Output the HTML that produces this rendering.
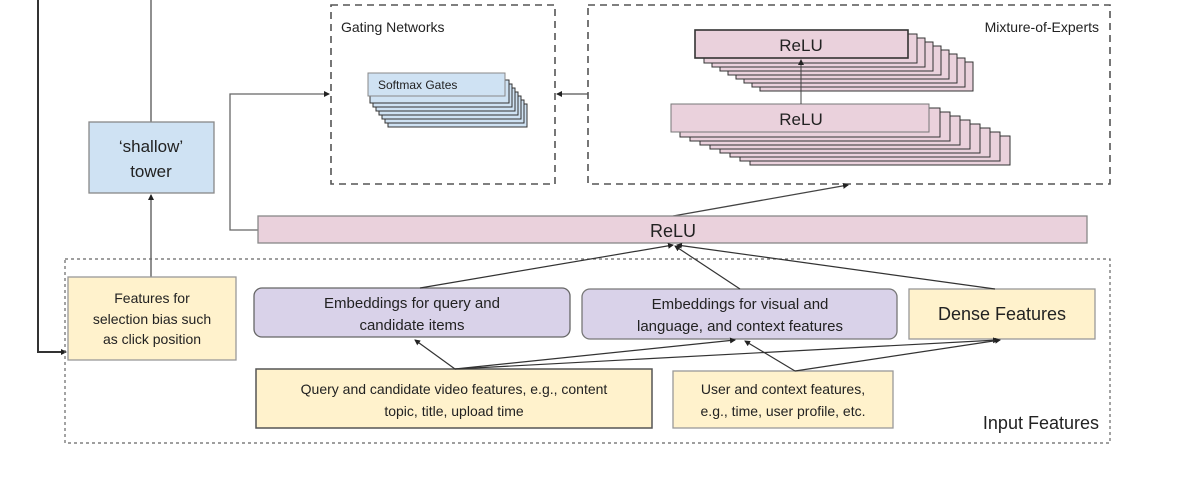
<!DOCTYPE html>
<html><head><meta charset="utf-8"><style>
html,body{margin:0;padding:0;background:#fff;}
svg{display:block;}
text{font-family:"Liberation Sans",sans-serif;fill:#222;}
</style></head><body>
<svg width="1181" height="490" viewBox="0 0 1181 490" xmlns="http://www.w3.org/2000/svg">
<defs>
<marker id="a" markerWidth="6" markerHeight="6" refX="5" refY="3" orient="auto" markerUnits="userSpaceOnUse"><path d="M0,0 L6,3 L0,6 z" fill="#222"/></marker>
</defs>
<rect width="1181" height="490" fill="#fff"/>
<path d="M38,0 V352 H66" fill="none" stroke="#333" stroke-width="2" marker-end="url(#a)"/>
<line x1="151" y1="0" x2="151" y2="122" stroke="#555" stroke-width="1.3"/>
<line x1="151" y1="277" x2="151" y2="195" stroke="#555" stroke-width="1.3" marker-end="url(#a)"/>
<rect x="89" y="122" width="125" height="71" fill="#cfe2f3" stroke="#888" stroke-width="1.3"/>
<text x="151" y="152" font-size="17" text-anchor="middle">‘shallow’</text>
<text x="151" y="177" font-size="17" text-anchor="middle">tower</text>
<path d="M258,230 H230 V94 H329" fill="none" stroke="#666" stroke-width="1.3" marker-end="url(#a)"/>
<rect x="331" y="5" width="224" height="179" fill="none" stroke="#555" stroke-width="1.6" stroke-dasharray="7,5"/>
<text x="341" y="32" font-size="14">Gating Networks</text>
<g fill="#cfe2f3" stroke="#333" stroke-width="1">
<rect x="388" y="104" width="139" height="23"/>
<rect x="385" y="100" width="139" height="23"/>
<rect x="382" y="96" width="139" height="23"/>
<rect x="379" y="92" width="139" height="23"/>
<rect x="376" y="88" width="139" height="23"/>
<rect x="373" y="84" width="139" height="23"/>
<rect x="370" y="80" width="139" height="23"/>
<rect x="368" y="73" width="137" height="23" stroke="#888"/>
</g>
<text x="378" y="89" font-size="12">Softmax Gates</text>
<line x1="588" y1="94" x2="557" y2="94" stroke="#555" stroke-width="1.3" marker-end="url(#a)"/>
<rect x="588" y="5" width="522" height="179" fill="none" stroke="#555" stroke-width="1.6" stroke-dasharray="7,5"/>
<text x="1099" y="32" font-size="14" text-anchor="end">Mixture-of-Experts</text>
<g fill="#ead1dc" stroke="#333" stroke-width="1">
<rect x="760" y="62" width="213" height="29"/>
<rect x="752" y="58" width="213" height="29"/>
<rect x="744" y="54" width="213" height="29"/>
<rect x="736" y="50" width="213" height="29"/>
<rect x="728" y="46" width="213" height="29"/>
<rect x="720" y="42" width="213" height="29"/>
<rect x="712" y="38" width="213" height="29"/>
<rect x="704" y="34" width="213" height="29"/>
<rect x="695" y="30" width="213" height="28" stroke-width="1.6"/>
</g>
<text x="801" y="51" font-size="17" text-anchor="middle">ReLU</text>
<g fill="#ead1dc" stroke="#333" stroke-width="1">
<rect x="750" y="136" width="260" height="29"/>
<rect x="740" y="132" width="260" height="29"/>
<rect x="730" y="128" width="260" height="29"/>
<rect x="720" y="124" width="260" height="29"/>
<rect x="710" y="120" width="260" height="29"/>
<rect x="700" y="116" width="260" height="29"/>
<rect x="690" y="112" width="260" height="29"/>
<rect x="680" y="108" width="260" height="29"/>
<rect x="671" y="104" width="258" height="28" stroke="#777"/>
</g>
<text x="801" y="125" font-size="17" text-anchor="middle">ReLU</text>
<line x1="801" y1="104" x2="801" y2="60" stroke="#444" stroke-width="1" marker-end="url(#a)"/>
<line x1="673" y1="216" x2="848" y2="185" stroke="#444" stroke-width="1.3" marker-end="url(#a)"/>
<rect x="258" y="216" width="829" height="27" fill="#ead1dc" stroke="#888" stroke-width="1.3"/>
<text x="673" y="237" font-size="18" text-anchor="middle">ReLU</text>
<rect x="65" y="259" width="1045" height="184" fill="none" stroke="#666" stroke-width="1.2" stroke-dasharray="3,3"/>
<text x="1099" y="429" font-size="18" text-anchor="end">Input Features</text>
<rect x="68" y="277" width="168" height="83" fill="#fff2cc" stroke="#999" stroke-width="1.3"/>
<text font-size="14" text-anchor="middle"><tspan x="152" y="303">Features for</tspan><tspan x="152" y="324">selection bias such</tspan><tspan x="152" y="344">as click position</tspan></text>
<rect x="254" y="288" width="316" height="49" rx="8" fill="#d9d2e9" stroke="#666" stroke-width="1.3"/>
<text font-size="15" text-anchor="middle"><tspan x="412" y="308">Embeddings for query and</tspan><tspan x="412" y="330">candidate items</tspan></text>
<rect x="582" y="289" width="315" height="50" rx="8" fill="#d9d2e9" stroke="#777" stroke-width="1.3"/>
<text font-size="15" text-anchor="middle"><tspan x="740" y="309">Embeddings for visual and</tspan><tspan x="740" y="331">language, and context features</tspan></text>
<rect x="909" y="289" width="186" height="50" fill="#fff2cc" stroke="#999" stroke-width="1.3"/>
<text x="1002" y="320" font-size="18" text-anchor="middle">Dense Features</text>
<rect x="256" y="369" width="396" height="59" fill="#fff2cc" stroke="#555" stroke-width="1.5"/>
<text font-size="14" text-anchor="middle"><tspan x="454" y="394">Query and candidate video features, e.g., content</tspan><tspan x="454" y="416">topic, title, upload time</tspan></text>
<rect x="673" y="371" width="220" height="57" fill="#fff2cc" stroke="#999" stroke-width="1.3"/>
<text font-size="14" text-anchor="middle"><tspan x="783" y="394">User and context features,</tspan><tspan x="783" y="416">e.g., time, user profile, etc.</tspan></text>
<g stroke="#333" stroke-width="1.2" fill="none" marker-end="url(#a)">
<line x1="420" y1="288" x2="673" y2="245"/>
<line x1="740" y1="289" x2="675" y2="246"/>
<line x1="995" y1="289" x2="677" y2="245"/>
<line x1="455" y1="369" x2="415" y2="340"/>
<line x1="455" y1="369" x2="735" y2="340"/>
<line x1="455" y1="369" x2="998" y2="340"/>
<line x1="795" y1="371" x2="745" y2="341"/>
<line x1="795" y1="371" x2="1000" y2="340"/>
</g>
</svg>
</body></html>
